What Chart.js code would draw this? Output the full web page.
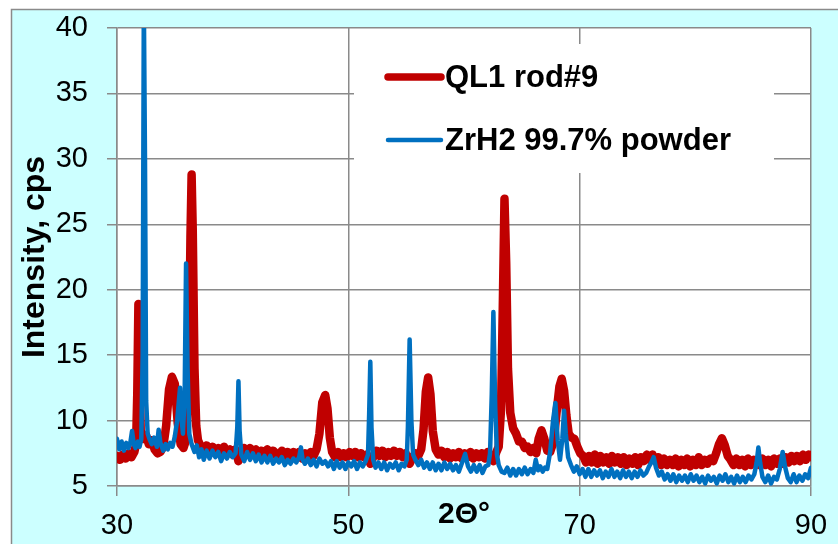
<!DOCTYPE html>
<html>
<head>
<meta charset="utf-8">
<script src="https://cdn.jsdelivr.net/npm/chart.js@4.4.1/dist/chart.umd.min.js"></script>
<style>
  body { margin: 0; background: #fff; }
</style>
</head>
<body>
<canvas id="xrd" width="838" height="544"></canvas>
<script>
// QL1 rod#9 pattern (2-theta in degrees, intensity in cps)
const rodAngle = [
  30, 30.25, 30.5, 30.75, 31, 31.25, 31.5, 31.65, 31.75, 31.85, 31.95, 32.05,
  32.25, 32.5, 32.75, 33, 33.25, 33.5, 33.75, 34, 34.25, 34.5, 34.75, 35, 35.25, 35.5, 35.75, 36,
  36.2, 36.35, 36.45, 36.55, 36.7, 36.85, 37, 37.25, 37.5, 37.75, 38, 38.25, 38.5, 38.75, 39, 39.25, 39.5, 39.75, 40,
  40.25, 40.5, 40.75, 41, 41.25, 41.5, 41.75, 42, 42.25, 42.5, 42.75, 43, 43.25, 43.5, 43.75, 44,
  44.25, 44.5, 44.75, 45, 45.25, 45.5, 45.75, 46, 46.25, 46.5, 46.75, 47, 47.25, 47.5, 47.75, 48, 48.2, 48.4, 48.6,
  48.85, 49.1, 49.35, 49.6, 49.85, 50.1, 50.35, 50.6, 50.85, 51.1, 51.35, 51.6, 51.9, 52.2, 52.45,
  52.7, 52.95, 53.2, 53.45, 53.7, 53.95, 54.2, 54.45, 54.7, 54.95, 55.3, 55.55, 55.8, 56.05, 56.3,
  56.5, 56.7, 56.9, 57.1, 57.3, 57.55,
  57.8, 58.05, 58.3, 58.55, 58.8, 59.05, 59.3, 59.55, 59.8, 60.05, 60.3, 60.55, 60.8, 61.05, 61.3, 61.55, 61.8, 62.05, 62.3, 62.55, 62.8,
  63, 63.2, 63.35, 63.5, 63.65, 63.8, 64, 64.25, 64.5, 64.75, 65, 65.25, 65.5, 65.75, 66, 66.25,
  66.45, 66.7, 66.95, 67.2, 67.45, 67.75, 68, 68.25, 68.45, 68.65, 68.85, 69.05, 69.3, 69.55, 69.8, 70.05,
  70.3, 70.55, 70.8, 71.05, 71.3, 71.55, 71.8, 72.05, 72.3, 72.55, 72.8, 73.05, 73.3, 73.55, 73.8, 74.05,
  74.3, 74.55, 74.8, 75.05, 75.3, 75.55, 75.8, 76.05, 76.3, 76.55, 76.8, 77.05, 77.3, 77.55, 77.8, 78.05,
  78.3, 78.55, 78.8, 79.05, 79.3, 79.55, 79.8, 80.05, 80.3, 80.55, 80.8, 81.05, 81.3, 81.55, 81.8,
  82.05, 82.3, 82.55, 82.8, 83.05, 83.3, 83.55, 83.8, 84.05, 84.3, 84.55, 84.8, 85.05, 85.3, 85.55, 85.8,
  86.05, 86.3, 86.55, 86.8, 87.05, 87.3, 87.55, 87.8, 88.05, 88.3, 88.55, 88.8, 89.05, 89.3, 89.55, 89.8, 90
];
const rodCps = [
  7.3, 7.0, 7.4, 7.1, 7.5, 7.2, 7.6, 8.2, 12.0, 18.9, 14.0, 9.2,
  8.6, 8.9, 8.2, 8.5, 7.8, 7.5, 7.6, 8.0, 9.6, 12.4, 13.35, 12.8, 9.8, 8.2, 7.9, 8.6,
  13.0, 24.0, 28.8, 24.5, 14.0, 9.6, 8.5, 8.0, 7.7, 8.1, 7.6, 8.0, 7.5, 7.9, 7.6, 8.0, 7.5, 7.8, 7.4,
  7.8, 6.9, 7.6, 7.9, 7.4, 7.9, 7.5, 7.8, 7.3, 7.7, 7.4, 7.8, 7.3, 7.7, 7.5, 7.2,
  7.7, 7.3, 7.6, 7.2, 7.6, 7.3, 7.6, 7.1, 7.5, 7.2, 7.6, 7.3, 7.8, 9.0, 11.4, 11.95, 10.9, 8.7, 7.6,
  7.2, 7.6, 7.2, 7.5, 7.2, 7.6, 7.3, 7.6, 7.2, 7.5, 7.2, 7.4, 6.7, 7.3, 7.7,
  7.3, 7.7, 7.2, 7.6, 7.3, 7.7, 7.3, 7.6, 7.2, 7.5, 6.7, 7.2, 7.5, 7.3, 7.8,
  9.3, 12.2, 13.3, 12.0, 9.2, 7.8,
  7.4, 7.7, 7.2, 7.6, 7.1, 7.5, 7.2, 7.6, 7.1, 7.5, 7.2, 7.6, 7.1, 7.5, 7.2, 7.5, 7.1, 7.6, 7.3, 6.9, 7.6,
  8.0, 10.8, 18.5, 26.95, 22.0, 14.0, 10.6, 9.4, 9.0, 8.4, 8.4, 7.9, 8.0, 7.6, 7.9, 7.5,
  8.6, 9.25, 8.6, 7.7, 7.6, 8.4, 10.6, 12.6, 13.2, 12.3, 10.4, 9.0, 8.7, 8.6, 8.0, 7.5,
  7.3, 6.8, 7.3, 6.8, 7.4, 6.7, 7.3, 6.8, 7.2, 6.7, 7.3, 6.8, 7.2, 6.7, 7.2, 6.6,
  7.1, 6.7, 7.2, 6.6, 7.2, 6.9, 7.4, 7.0, 7.4, 6.9, 7.2, 6.6, 7.1, 6.6, 7.0, 6.6,
  7.1, 6.5, 7.0, 6.6, 7.1, 6.5, 7.0, 6.6, 7.2, 6.6, 7.0, 6.7, 7.1, 6.9, 7.5,
  8.2, 8.65, 8.1, 7.3, 7.0, 6.6, 7.1, 6.6, 7.0, 6.5, 7.1, 6.6, 7.0, 6.7, 6.6, 7.1,
  6.6, 7.0, 6.5, 7.1, 6.7, 7.1, 6.7, 7.2, 6.8, 7.3, 6.9, 7.3, 6.9, 7.4, 7.0, 7.4, 7.2
];

// ZrH2 99.7% powder pattern
const powderAngle = [
  30, 30.2, 30.4, 30.6, 30.8, 31, 31.15, 31.3, 31.45, 31.6, 31.8, 31.95, 32.1,
  32.22, 32.32, 32.42, 32.52, 32.65,
  32.8, 33, 33.2, 33.45, 33.6, 33.75, 34, 34.2, 34.4, 34.6, 34.8, 35, 35.2,
  35.35, 35.45, 35.55, 35.7, 35.85, 35.97, 36.1, 36.25, 36.45,
  36.7, 36.9, 37.1, 37.3, 37.5, 37.75, 38, 38.25, 38.5, 38.75, 39, 39.25, 39.5, 39.75, 40, 40.25,
  40.4, 40.5, 40.6, 40.75,
  41, 41.25, 41.5, 41.75, 42, 42.25, 42.5, 42.75, 43, 43.25, 43.5, 43.75, 44, 44.25, 44.5, 44.75, 45, 45.25, 45.5, 45.75,
  45.9, 46.05, 46.25, 46.5, 46.75, 47, 47.25, 47.5, 47.75, 48, 48.25, 48.5, 48.75, 49, 49.25, 49.5, 49.75, 50, 50.25, 50.5, 50.75, 51, 51.25, 51.5,
  51.7, 51.8, 51.9, 52.0, 52.15,
  52.35, 52.6, 52.85, 53.1, 53.35, 53.6, 53.85, 54.1, 54.35, 54.6, 54.85, 55.05,
  55.15, 55.3, 55.45, 55.6,
  55.8, 56.05, 56.3, 56.55, 56.8, 57.05, 57.3, 57.55, 57.8, 58.05, 58.3, 58.55, 58.8, 59.05, 59.3, 59.55, 59.8, 60.1, 60.35, 60.6, 60.85, 61.1, 61.35, 61.6, 61.85, 62.1,
  62.25, 62.4, 62.54, 62.7, 62.85,
  63, 63.25, 63.5, 63.75, 64, 64.25, 64.5, 64.75, 65, 65.25, 65.5, 65.75, 66, 66.2, 66.4, 66.6, 66.8, 67, 67.2,
  67.45, 67.7, 67.9, 68.1, 68.3, 68.5, 68.65, 68.8, 69, 69.25,
  69.5, 69.75, 70, 70.25, 70.5, 70.75, 71, 71.25, 71.5, 71.75, 72, 72.25, 72.5, 72.75, 73, 73.25, 73.5, 73.75, 74, 74.25, 74.5, 74.75, 75, 75.25, 75.5, 75.75, 76,
  76.2, 76.4, 76.6, 76.85, 77.1, 77.35, 77.6, 77.85, 78.1, 78.35, 78.6, 78.85, 79.1, 79.35, 79.6, 79.85, 80.1, 80.35, 80.6,
  80.85, 81.1, 81.35, 81.6, 81.85, 82.1, 82.35, 82.6, 82.85, 83.1, 83.35, 83.6, 83.85, 84.1, 84.35, 84.6, 84.85, 85.1,
  85.3, 85.45, 85.6, 85.8, 86.05, 86.3, 86.55, 86.8, 87.05, 87.3, 87.55, 87.75, 88, 88.25, 88.5, 88.75, 89, 89.25, 89.5, 89.75, 90
];
const powderCps = [
  8.6, 7.8, 8.4, 7.7, 8.3, 7.9, 8.3, 9.2, 8.2, 7.9, 8.4, 8.0, 8.6,
  15.0, 42.0, 30.0, 11.5, 9.0,
  8.6, 8.2, 8.7, 8.0, 9.3, 8.3, 7.7, 8.2, 7.8, 8.3, 8.0, 8.8, 10.0,
  11.5, 12.5, 10.5, 9.0, 12.0, 22.0, 14.0, 9.0, 8.2,
  7.6, 8.1, 7.2, 7.8, 7.0, 7.7, 7.1, 7.7, 7.2, 7.6, 6.9, 7.5, 7.1, 7.6, 7.2, 7.5,
  9.5, 13.0, 9.2, 7.4,
  6.9, 7.6, 7.0, 7.5, 6.9, 7.4, 6.8, 7.3, 6.8, 7.3, 6.7, 7.1, 6.8, 7.2, 6.6, 7.0, 6.7, 7.1, 6.8, 7.2,
  7.95, 7.0, 6.7, 7.1, 6.6, 7.0, 6.5, 7.1, 6.7, 6.9, 6.5, 6.9, 6.3, 6.9, 6.4, 6.8, 6.3, 6.8, 6.5, 6.9, 6.3, 6.8, 6.5, 6.9,
  7.4, 10.5, 14.5, 9.5, 7.0,
  6.4, 6.8, 6.3, 6.8, 6.2, 6.7, 6.4, 6.8, 6.2, 6.7, 6.5, 7.0,
  9.5, 16.2, 10.0, 7.4,
  7.0, 6.6, 7.0, 6.4, 6.8, 6.3, 6.8, 6.2, 6.7, 6.2, 6.8, 6.3, 6.7, 6.2, 6.6, 6.1, 6.7, 7.45, 6.5, 6.1, 6.6, 6.1, 6.6, 6.0, 6.5, 6.6,
  7.5, 12.0, 18.3, 11.0, 7.4,
  6.6, 6.1, 6.0, 6.4, 5.8, 6.3, 5.8, 6.3, 5.9, 6.4, 5.9, 6.3, 6.0, 7.0, 6.2, 6.5, 6.1, 6.4, 6.3,
  7.6, 10.0, 11.35, 8.5, 7.0, 8.6, 10.75, 9.0, 7.2, 6.6,
  6.1, 6.5, 5.9, 6.3, 5.7, 6.3, 5.7, 6.2, 5.8, 6.2, 5.6, 6.1, 5.7, 6.3, 5.7, 6.1, 5.6, 6.2, 5.7, 6.1, 5.6, 6.1, 5.7, 6.2, 5.8, 6.0, 6.5,
  6.8, 7.2, 6.4, 5.8, 6.1, 5.5, 5.9, 5.4, 5.9, 5.3, 5.8, 5.4, 5.8, 5.3, 5.9, 5.4, 5.8, 5.3, 5.7,
  5.2, 5.8, 5.4, 5.7, 5.2, 5.8, 5.4, 5.9, 5.3, 5.7, 5.2, 5.8, 5.3, 5.7, 5.3, 5.8, 5.5, 5.9,
  6.8, 7.95, 6.8, 5.7, 5.3, 5.8, 5.2, 5.7, 5.5, 6.3, 7.6, 6.5, 5.6, 5.3, 5.9, 5.3, 5.8, 5.4, 5.9, 5.6, 6.4
];

const seriesNames = ['QL1 rod#9', 'ZrH2 99.7% powder'];
const xTicks = { min: 30, max: 90, step: 20 };
const yTicks = { min: 5, max: 40, step: 5 };

Chart.defaults.font.family = "'Liberation Sans', Arial, sans-serif";
Chart.defaults.color = '#000';

const toPoints = (xs, ys) => xs.map((x, i) => ({ x, y: ys[i] }));

// cyan panel + white plot area
const framePlugin = {
  id: 'frame',
  beforeDraw(chart) {
    const { ctx, chartArea: a } = chart;
    ctx.save();
    ctx.fillStyle = '#fff';
    ctx.fillRect(0, 0, chart.width, chart.height);
    ctx.fillStyle = '#ccffff';
    ctx.fillRect(11, 9, chart.width - 11, chart.height - 9);
    ctx.strokeStyle = '#8a8a8a';
    ctx.lineWidth = 1.5;
    ctx.beginPath();
    ctx.moveTo(11.5, chart.height);
    ctx.lineTo(11.5, 9.5);
    ctx.lineTo(chart.width, 9.5);
    ctx.stroke();
    ctx.fillStyle = '#fff';
    ctx.fillRect(a.left, a.top, a.right - a.left, a.bottom - a.top);
    ctx.restore();
  }
};

// legend sitting inside the plot, on a white box over the grid
const insideLegend = {
  id: 'insideLegend',
  beforeDatasetsDraw(chart) {
    const { ctx } = chart;
    ctx.save();
    ctx.fillStyle = '#fff';
    ctx.fillRect(354, 44, 420, 129);
    const rows = [{ y: 77, text: 87, w: 7.5 }, { y: 140, text: 150, w: 4.5 }];
    chart.data.datasets.forEach((ds, i) => {
      const r = rows[i];
      ctx.strokeStyle = ds.borderColor;
      ctx.lineWidth = r.w;
      ctx.lineCap = 'round';
      ctx.beginPath();
      ctx.moveTo(388, r.y);
      ctx.lineTo(441, r.y);
      ctx.stroke();
      ctx.fillStyle = '#000';
      ctx.font = "bold 31px 'Liberation Sans', Arial, sans-serif";
      ctx.textBaseline = 'alphabetic';
      ctx.fillText(ds.label, 445, r.text);
    });
    ctx.restore();
  }
};

new Chart(document.getElementById('xrd'), {
  type: 'line',
  data: {
    datasets: [
      {
        label: seriesNames[0],
        data: toPoints(rodAngle, rodCps),
        borderColor: '#c00000',
        borderWidth: 8.5,
        order: 2
      },
      {
        label: seriesNames[1],
        data: toPoints(powderAngle, powderCps),
        borderColor: '#0070c0',
        borderWidth: 4.5,
        order: 1
      }
    ]
  },
  options: {
    responsive: false,
    animation: false,
    devicePixelRatio: 1,
    layout: { padding: { left: 0, top: 28, right: 27, bottom: 0 } },
    elements: {
      point: { radius: 0 },
      line: { tension: 0, borderJoinStyle: 'round', borderCapStyle: 'round', fill: false }
    },
    plugins: {
      legend: { display: false },
      tooltip: { enabled: false }
    },
    scales: {
      x: {
        type: 'linear',
        min: xTicks.min,
        max: xTicks.max,
        afterFit(scale) {
          scale.height = 58;
          scale.paddingLeft = 0;
          scale.paddingRight = 0;
        },
        ticks: { stepSize: xTicks.step, font: { size: 29 }, padding: 13, maxRotation: 0 },
        grid: { color: '#8a8a8a', lineWidth: 1.5, tickLength: 10 },
        border: { color: '#8a8a8a', width: 1.5 },
        title: {
          display: true,
          text: '2Θ°',
          font: { size: 30, weight: 'bold' },
          padding: { top: 0, bottom: 11 }
        }
      },
      y: {
        min: yTicks.min,
        max: yTicks.max,
        afterFit(scale) {
          scale.width = 117;
          scale.paddingTop = 0;
          scale.paddingBottom = 0;
        },
        ticks: { stepSize: yTicks.step, font: { size: 29 }, padding: 19 },
        grid: { color: '#8a8a8a', lineWidth: 1.5, tickLength: 10 },
        border: { color: '#8a8a8a', width: 1.5 },
        title: {
          display: true,
          text: 'Intensity, cps',
          font: { size: 32, weight: 'bold' },
          padding: { top: 16, bottom: 0 }
        }
      }
    }
  },
  plugins: [framePlugin, insideLegend]
});
</script>
</body>
</html>
